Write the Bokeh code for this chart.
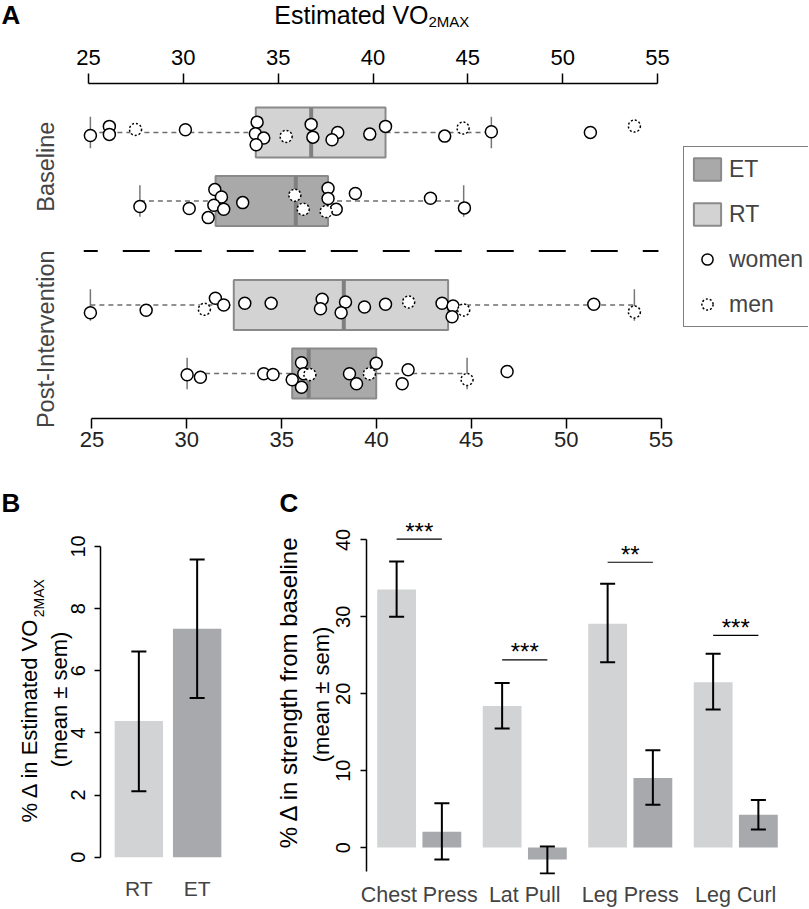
from math import pi
from bokeh.plotting import figure
from bokeh.models import (Range1d, FactorRange, FixedTicker, LinearAxis,
                          Legend, LegendItem, ColumnDataSource)
from bokeh.transform import dodge
from bokeh.layouts import column, row
from bokeh.embed import file_html
from bokeh.resources import INLINE
from bokeh.core.properties import value

FONT = "Liberation Sans"

# ---------------- Panel A data (Estimated VO2max) ----------------
box_arm = ["RT", "ET", "RT", "ET"]           # Baseline RT, Baseline ET, Post RT, Post ET
box_q1 = [33.82, 31.70, 32.66, 35.74]
box_median = [36.74, 35.93, 38.46, 36.61]
box_q3 = [40.66, 37.63, 43.96, 40.17]
box_whisk_lo = [25.1, 27.71, 25.1, 30.2]
box_whisk_hi = [46.24, 44.78, 53.78, 44.96]

# individual subjects: value, vertical jitter (row units, as drawn), sex
base_rt_vals = [25.1, 26.1, 26.1, 27.48, 30.11, 33.89, 33.8, 34.24, 33.84, 35.42, 36.74,
                36.83, 38.14, 37.84, 39.83, 40.66, 43.78, 44.75, 46.24, 51.46, 53.78]
base_rt_jit = [-0.044, 0.088, -0.029, 0.044, 0.039, 0.150, -0.019, -0.083, -0.180, -0.058, 0.117,
               -0.069, 0.0, -0.107, -0.025, 0.088, -0.054, 0.063, 0.010, 0.0, 0.092]
base_rt_sex = ["W", "W", "W", "M", "W", "W", "W", "W", "W", "M", "W",
               "W", "W", "W", "W", "W", "W", "M", "W", "W", "M"]

base_et_vals = [27.71, 30.31, 31.31, 31.66, 32.01, 31.61, 32.13, 33.13, 35.88, 36.32, 37.63,
                37.63, 37.53, 38.06, 39.07, 43.03, 44.82]
base_et_jit = [-0.083, -0.112, -0.244, 0.165, 0.058, -0.063, -0.121, -0.025, 0.083, -0.121, 0.185,
               0.034, -0.156, -0.121, 0.107, 0.039, -0.102]
base_et_sex = ["W", "W", "W", "W", "W", "W", "W", "W", "M", "M", "W",
               "W", "M", "W", "W", "W", "W"]

post_rt_vals = [25.1, 28.04, 31.11, 31.69, 32.13, 33.24, 34.63, 37.32, 37.23, 38.55, 38.32,
                39.55, 40.66, 41.88, 43.64, 44.22, 44.17, 44.78, 51.64, 53.78]
post_rt_jit = [-0.112, -0.077, -0.063, 0.098, 0.0, 0.025, 0.025, 0.083, -0.054, 0.044, -0.112,
               -0.029, 0.010, 0.044, 0.025, -0.015, -0.171, -0.073, 0.010, -0.102]
post_rt_sex = ["W", "W", "M", "W", "W", "W", "W", "W", "W", "W", "W",
               "W", "W", "M", "W", "W", "W", "M", "W", "M"]

post_et_vals = [30.2, 30.9, 34.24, 34.73, 36.23, 35.74, 36.23, 36.35, 36.67, 38.76, 39.13,
                39.81, 40.17, 41.54, 41.85, 44.96, 47.07]
post_et_jit = [-0.019, -0.054, -0.004, -0.015, 0.156, -0.092, -0.200, -0.004, -0.015, -0.004, -0.150,
               -0.004, 0.150, -0.150, 0.054, -0.088, 0.029]
post_et_sex = ["W", "W", "W", "W", "W", "W", "W", "W", "M", "W", "W",
               "M", "W", "W", "W", "M", "W"]

vo2_ticks = [25, 30, 35, 40, 45, 50, 55]

# ---------------- Panel B data ----------------
b_groups = ["RT", "ET"]
b_mean = [4.38, 7.35]
b_lo = [2.12, 5.12]
b_hi = [6.62, 9.58]
b_ticks = [0, 2, 4, 6, 8, 10]

# ---------------- Panel C data ----------------
exercises = ["Chest Press", "Lat Pull", "Leg Press", "Leg Curl"]
rt_mean = [33.56, 18.4, 29.1, 21.5]
rt_lo = [30.0, 15.5, 24.1, 17.96]
rt_hi = [37.2, 21.4, 34.3, 25.2]
et_mean = [2.06, -1.55, 9.06, 4.26]
et_lo = [-1.55, -3.37, 5.57, 2.35]
et_hi = [5.75, 0.15, 12.66, 6.2]
sig_y = [40.1, 24.4, 37.1, 27.6]
sig_stars = ["***", "***", "**", "***"]
c_ticks = [0, 10, 20, 30, 40]

# ---------------- styles / layout constants ----------------
RT_BOX = "#d3d3d3"
ET_BOX = "#a9a9a9"
RT_BAR = "#d1d3d4"
ET_BAR = "#a7a9ac"
ROW_Y = [3.52, 2.52, 1.0, 0.0]
BOX_H = 0.73
CAP_H = 0.23
SEP_Y = 1.79
SEP_X = (24.75, 55.05)
DODGE = 0.2144

# page-pixel frames (left, right, top, bottom) used to place free text
A_FRAME = (75, 808, 83, 418)
A_X = (24.315, 62.96)
A_Y = (-0.657, 4.234)
B_FRAME = (100, 235, 512, 882)
B_X = (-0.158, 2.158)
B_Y = (-0.557, 11.093)
C_FRAME = (366, 788, 512, 882)
C_X = (0, 4)
C_Y = (-3.50, 43.57)


def to_data(frame, xr, yr, px, py):
    l, r, t, b = frame
    x = xr[0] + (px - l) * (xr[1] - xr[0]) / (r - l)
    y = yr[0] + (b - py) * (yr[1] - yr[0]) / (b - t)
    return x, y


def put_text(p, frame, xr, yr, px, py, txt, size, align="left", angle=0.0, style="normal"):
    x, y = to_data(frame, xr, yr, px, py)
    p.text(x=[x], y=[y], text=[txt], angle=angle, text_font=value(FONT),
           text_font_size=size, text_align=align, text_baseline="middle",
           text_font_style=style, text_color="black", level="overlay")


def style_num_axis(ax, size="22px", color="black"):
    ax.axis_line_color = "black"
    ax.axis_line_width = 1.5
    ax.major_tick_line_color = "black"
    ax.major_tick_line_width = 1.5
    ax.minor_tick_line_color = None
    ax.major_tick_in = 0
    ax.major_label_text_font = FONT
    ax.major_label_text_font_size = size
    ax.major_label_text_color = color


def clean(p):
    p.xgrid.visible = False
    p.ygrid.visible = False
    p.outline_line_color = None
    p.background_fill_color = "white"
    p.border_fill_color = "white"


# ================= Panel A =================
pA = figure(width=809, height=462, x_range=Range1d(*A_X), y_range=Range1d(*A_Y),
            x_axis_location="above", toolbar_location=None, output_backend="svg",
            min_border_left=75, min_border_right=1, min_border_top=83, min_border_bottom=44)
clean(pA)

top_ax = pA.xaxis[0]
style_num_axis(top_ax)
top_ax.ticker = FixedTicker(ticks=vo2_ticks)
top_ax.bounds = (vo2_ticks[0], vo2_ticks[-1])
top_ax.major_tick_out = 10
top_ax.major_label_standoff = 9

shift = 3.5 / 18.97
pA.extra_x_ranges = {"bot": Range1d(A_X[0] - shift, A_X[1] - shift)}
bot_ax = LinearAxis(x_range_name="bot")
style_num_axis(bot_ax, color="#222222")
bot_ax.ticker = FixedTicker(ticks=vo2_ticks)
bot_ax.bounds = (vo2_ticks[0], vo2_ticks[-1])
bot_ax.major_tick_out = 10
bot_ax.major_label_standoff = 3
pA.add_layout(bot_ax, "below")

mid_base = (ROW_Y[0] + ROW_Y[1]) / 2
mid_post = (ROW_Y[2] + ROW_Y[3]) / 2
lax = pA.yaxis[0]
lax.ticker = FixedTicker(ticks=[mid_base, mid_post])
lax.major_label_overrides = {mid_base: "Baseline", mid_post: "Post-Intervention"}
lax.axis_line_color = None
lax.major_tick_line_color = None
lax.minor_tick_line_color = None
lax.major_label_orientation = "parallel"
lax.major_label_text_font = FONT
lax.major_label_text_font_size = "23.5px"
lax.major_label_standoff = 10

box_src = ColumnDataSource(dict(
    y=ROW_Y, q1=box_q1, q3=box_q3, med=box_median, wl=box_whisk_lo, wh=box_whisk_hi,
    fill=[RT_BOX if a == "RT" else ET_BOX for a in box_arm],
    ylo=[y - BOX_H / 2 for y in ROW_Y], yhi=[y + BOX_H / 2 for y in ROW_Y],
    clo=[y - CAP_H for y in ROW_Y], chi=[y + CAP_H for y in ROW_Y],
))

pA.segment(x0="wl", x1="q1", y0="y", y1="y", source=box_src, line_color="#6e6e6e",
           line_width=1.5, line_dash="5 4")
pA.segment(x0="q3", x1="wh", y0="y", y1="y", source=box_src, line_color="#6e6e6e",
           line_width=1.5, line_dash="5 4")
pA.segment(x0="wl", x1="wl", y0="clo", y1="chi", source=box_src, line_color="#777777", line_width=1.5)
pA.segment(x0="wh", x1="wh", y0="clo", y1="chi", source=box_src, line_color="#777777", line_width=1.5)
r_box = pA.hbar(y="y", left="q1", right="q3", height=BOX_H, source=box_src,
                fill_color="fill", line_color="#8a8a8a", line_width=2)
pA.segment(x0="med", x1="med", y0="ylo", y1="yhi", source=box_src, line_color="#808080", line_width=4)

pA.segment(x0=[SEP_X[0]], x1=[SEP_X[1]], y0=[SEP_Y], y1=[SEP_Y], line_color="black",
           line_width=2, line_dash="27 25", line_dash_offset=13)

wx, wy, mx, my = [], [], [], []
for g, (vals, jit, sex) in enumerate([(base_rt_vals, base_rt_jit, base_rt_sex),
                                       (base_et_vals, base_et_jit, base_et_sex),
                                       (post_rt_vals, post_rt_jit, post_rt_sex),
                                       (post_et_vals, post_et_jit, post_et_sex)]):
    for v, j, s in zip(vals, jit, sex):
        if s == "W":
            wx.append(v); wy.append(ROW_Y[g] + j)
        else:
            mx.append(v); my.append(ROW_Y[g] + j)

r_w = pA.scatter(x=wx, y=wy, marker="circle", size=12, fill_color="white",
                 line_color="black", line_width=1.5)
r_m = pA.scatter(x=mx, y=my, marker="circle", size=12, fill_color="white",
                 line_color="black", line_width=1.5, line_dash="2 2")

legend = Legend(items=[
    LegendItem(label="ET", renderers=[r_box], index=1),
    LegendItem(label="RT", renderers=[r_box], index=0),
    LegendItem(label="women", renderers=[r_w]),
    LegendItem(label="men", renderers=[r_m]),
], location=(683 - 75, 418 - 327))
legend.margin = 0
legend.padding = 6
legend.spacing = 13
legend.glyph_width = 34
legend.glyph_height = 28
legend.label_height = 32
legend.label_standoff = 5
legend.label_text_font = FONT
legend.label_text_font_size = "23px"
legend.border_line_color = "black"
legend.border_line_width = 1.5
legend.background_fill_alpha = 1.0
pA.add_layout(legend)

put_text(pA, A_FRAME, A_X, A_Y, 1, 14, "A", "26px", style="bold")
put_text(pA, A_FRAME, A_X, A_Y, 428, 14, "Estimated VO", "25px", align="right")
put_text(pA, A_FRAME, A_X, A_Y, 428, 21, "2MAX", "15px", align="left")

# ================= Panel B =================
pB = figure(width=235, height=447,
            x_range=FactorRange(factors=b_groups, range_padding=-B_X[0], range_padding_units="absolute"),
            y_range=Range1d(*B_Y), toolbar_location=None, output_backend="svg",
            min_border_left=100, min_border_right=0, min_border_top=50, min_border_bottom=27)
clean(pB)
b_src = ColumnDataSource(dict(g=b_groups, m=b_mean, lo=b_lo, hi=b_hi, fill=[RT_BAR, ET_BAR]))
pB.vbar(x="g", top="m", bottom=0, width=0.83, source=b_src, fill_color="fill", line_color=None)
pB.segment(x0="g", x1="g", y0="lo", y1="hi", source=b_src, line_color="black", line_width=2)
pB.scatter(x="g", y="lo", source=b_src, marker="dash", size=15, line_color="black", line_width=2)
pB.scatter(x="g", y="hi", source=b_src, marker="dash", size=15, line_color="black", line_width=2)

yb = pB.yaxis[0]
style_num_axis(yb, size="20px")
yb.ticker = FixedTicker(ticks=b_ticks)
yb.bounds = (b_ticks[0], b_ticks[-1])
yb.major_tick_out = 6
yb.major_label_orientation = "parallel"
yb.major_label_standoff = 9
xb = pB.xaxis[0]
xb.axis_line_color = None
xb.major_tick_line_color = None
xb.minor_tick_line_color = None
xb.major_label_text_font = FONT
xb.major_label_text_font_size = "21px"
xb.major_label_standoff = -4

put_text(pB, B_FRAME, B_X, B_Y, 1, 502, "B", "26px", style="bold")
put_text(pB, B_FRAME, B_X, B_Y, 29, 619, "% \u0394 in Estimated VO", "22px",
         align="right", angle=pi / 2)
put_text(pB, B_FRAME, B_X, B_Y, 38, 619, "2MAX", "14px", align="left", angle=pi / 2)
put_text(pB, B_FRAME, B_X, B_Y, 59, 703, "(mean \u00b1 sem)", "22px", align="center",
         angle=pi / 2)

# ================= Panel C =================
pC = figure(width=574, height=447,
            x_range=FactorRange(factors=exercises, range_padding=0, range_padding_units="absolute"),
            y_range=Range1d(*C_Y), toolbar_location=None, output_backend="svg",
            min_border_left=131, min_border_right=21, min_border_top=50, min_border_bottom=27)
clean(pC)
c_src = ColumnDataSource(dict(ex=exercises, rm=rt_mean, rlo=rt_lo, rhi=rt_hi,
                              em=et_mean, elo=et_lo, ehi=et_hi, sy=sig_y, st=sig_stars))
x_rt = dodge("ex", -DODGE, range=pC.x_range)
x_et = dodge("ex", DODGE, range=pC.x_range)
pC.vbar(x=x_rt, top="rm", bottom=0, width=0.368, source=c_src, fill_color=RT_BAR, line_color=None)
pC.vbar(x=x_et, top="em", bottom=0, width=0.368, source=c_src, fill_color=ET_BAR, line_color=None)
for xx, lo, hi in [(x_rt, "rlo", "rhi"), (x_et, "elo", "ehi")]:
    pC.segment(x0=xx, x1=xx, y0=lo, y1=hi, source=c_src, line_color="black", line_width=2)
    pC.scatter(x=xx, y=lo, source=c_src, marker="dash", size=15, line_color="black", line_width=2)
    pC.scatter(x=xx, y=hi, source=c_src, marker="dash", size=15, line_color="black", line_width=2)
pC.segment(x0=x_rt, x1=x_et, y0="sy", y1="sy", source=c_src, line_color="black", line_width=1.2)
pC.text(x="ex", y="sy", text="st", source=c_src, text_font=value(FONT), text_font_size="24px",
        text_align="center", text_baseline="middle", y_offset=-8)

yc = pC.yaxis[0]
style_num_axis(yc, size="20px")
yc.ticker = FixedTicker(ticks=c_ticks)
yc.bounds = (-3.1, c_ticks[-1])
yc.major_tick_out = 6
yc.major_label_orientation = "parallel"
yc.major_label_standoff = 10
xc = pC.xaxis[0]
xc.axis_line_color = None
xc.major_tick_line_color = None
xc.minor_tick_line_color = None
xc.major_label_text_font = FONT
xc.major_label_text_font_size = "21.5px"
xc.major_label_standoff = 2

put_text(pC, C_FRAME, C_X, C_Y, 279, 502, "C", "26px", style="bold")
put_text(pC, C_FRAME, C_X, C_Y, 288, 695, "% \u0394 in strength from baseline", "24px",
         align="center", angle=pi / 2)
put_text(pC, C_FRAME, C_X, C_Y, 321, 698, "(mean \u00b1 sem)", "22px",
         align="center", angle=pi / 2)

layout = column(pA, row(pB, pC))
open("out.html", "w").write(file_html(layout, INLINE))
